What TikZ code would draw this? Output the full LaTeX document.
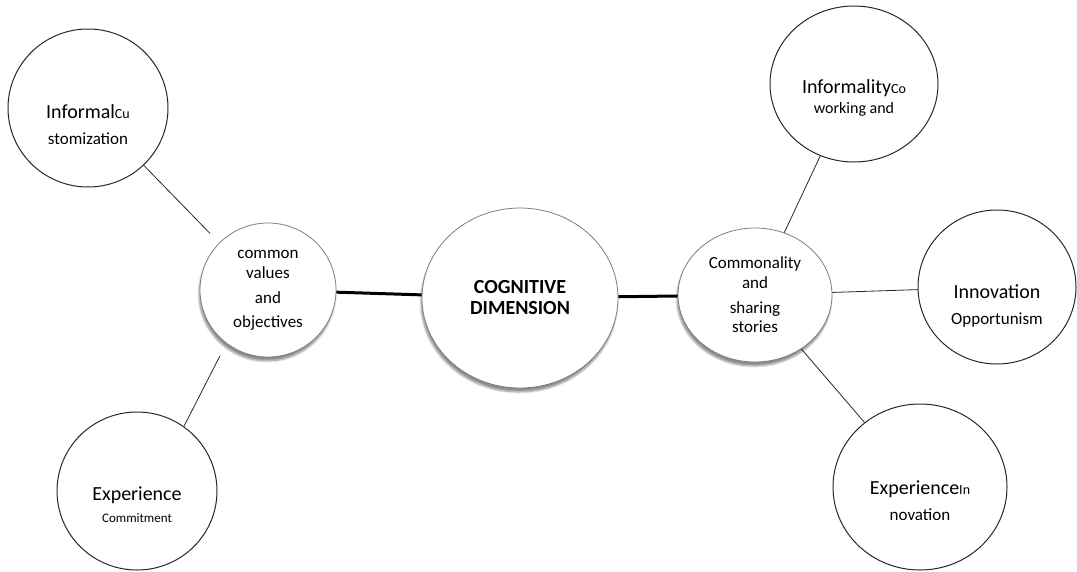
\documentclass[tikz,border=0pt]{standalone}
\usepackage{fontspec}
\setmainfont{Carlito}
\usepackage{tikz}
\usetikzlibrary{shapes.geometric,shadows.blur}
\definecolor{Rim}{RGB}{125,125,125}
\definecolor{Ink}{RGB}{40,40,40}
\newcommand{\SzL}{\fontsize{20}{24}\selectfont}
\newcommand{\SzM}{\fontsize{17}{24}\selectfont}
\newcommand{\SzS}{\fontsize{14}{24}\selectfont}
\newcommand{\SzXS}{\fontsize{13}{24}\selectfont}
\tikzset{
  outer/.style={ellipse,draw=Ink,line width=1pt,fill=white,inner sep=0pt},
  inner/.style={ellipse,draw=Rim,line width=0.8pt,fill=white,inner sep=0pt,
    blur shadow={shadow xshift=-1pt,shadow yshift=-4pt,shadow opacity=45,shadow blur steps=6}},
  bubble text/.style={align=center,inner sep=0pt,font=\SzM},
  thin link/.style={line width=0.8pt,draw=Ink},
  thick link/.style={line width=3pt,draw=black}
}
\newcommand{\Bubble}[8]{% style name x y rx ry text-drop text
\node[#1,minimum width=#5*2pt,minimum height=#6*2pt] (#2) at (#3,#4) {};
\node[bubble text] (#2-txt) at ([yshift=-#7pt]#2.center) {#8};
}

\begin{document}
\begin{tikzpicture}[x=1pt,y=-1pt]
\useasboundingbox (0,0) rectangle (1077,571);
% centre and its two branches
\Bubble{inner}{CogDim}{520}{298}{98}{90}{0}{\SzL\bfseries COGNITIVE\\[-3pt]\SzL\bfseries DIMENSION}
\Bubble{inner}{CommonVal}{268}{290}{68}{67}{0}{common\\[-4pt]values\\[1pt]and\\[0pt]objectives}
\Bubble{inner}{Commonality}{755}{295}{77}{67}{0}{Commonality\\[-4pt]and\\[1pt]sharing\\[-5pt]stories}
% outer circles
\Bubble{outer}{InfCu}{88}{108}{80}{79}{17}{\SzL Informal\SzS Cu\\[2pt]\SzM stomization}
\Bubble{outer}{ExpCom}{137}{491}{80}{79}{14}{\SzL Experience\\[-2pt]\SzXS Commitment}
\Bubble{outer}{InfCo}{854}{84}{84}{78}{14}{\SzL Informality\SzS Co\\[-4pt]\fontsize{16}{24}\selectfont working and}
\Bubble{outer}{Innov}{997}{287}{79}{77}{19}{\SzL Innovation\\[2pt]\SzM Opportunism}
\Bubble{outer}{ExpIn}{920}{487}{87}{83}{14}{\SzL Experience\SzS In\\[2pt]\SzM novation}
% connectors
\draw[thick link] (CommonVal) -- (CogDim);
\draw[thick link] (CogDim) -- (Commonality);
\draw[thin link,shorten >=13pt] (InfCu) -- (CommonVal.136);
\draw[thin link,shorten <=14pt] (CommonVal.232) -- (ExpCom.54);
\draw[thin link] (Commonality) -- (InfCo);
\draw[thin link] (Commonality) -- (Innov);
\draw[thin link] (Commonality) -- (ExpIn);
\end{tikzpicture}
\end{document}
